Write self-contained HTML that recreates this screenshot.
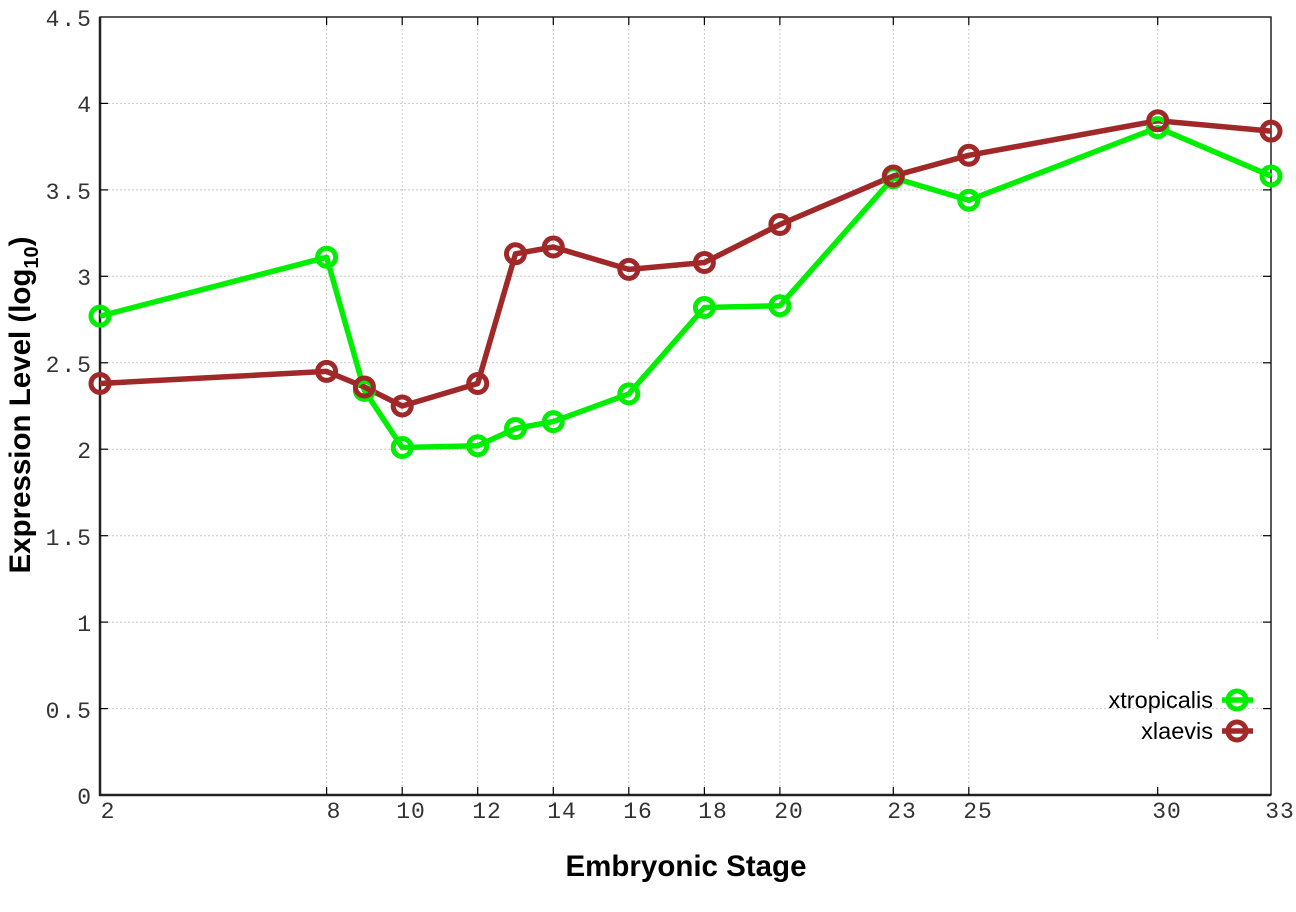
<!DOCTYPE html>
<html><head><meta charset="utf-8"><style>body{margin:0;background:#fff}</style></head><body>
<svg width="1296" height="907" xmlns="http://www.w3.org/2000/svg">
<rect width="1296" height="907" fill="#fff"/>
<g stroke="#c8c8c8" stroke-width="1" stroke-dasharray="2,2">
<line x1="100" x2="1271" y1="103.4" y2="103.4"/><line x1="100" x2="1271" y1="189.9" y2="189.9"/><line x1="100" x2="1271" y1="276.3" y2="276.3"/><line x1="100" x2="1271" y1="362.8" y2="362.8"/><line x1="100" x2="1271" y1="449.2" y2="449.2"/><line x1="100" x2="1271" y1="535.7" y2="535.7"/><line x1="100" x2="1271" y1="622.1" y2="622.1"/><line x1="100" x2="1271" y1="708.6" y2="708.6"/>
<line x1="326.6" x2="326.6" y1="17" y2="795"/><line x1="402.2" x2="402.2" y1="17" y2="795"/><line x1="477.7" x2="477.7" y1="17" y2="795"/><line x1="553.3" x2="553.3" y1="17" y2="795"/><line x1="628.8" x2="628.8" y1="17" y2="795"/><line x1="704.4" x2="704.4" y1="17" y2="795"/><line x1="779.9" x2="779.9" y1="17" y2="795"/><line x1="893.3" x2="893.3" y1="17" y2="795"/><line x1="968.8" x2="968.8" y1="17" y2="795"/><line x1="1157.7" x2="1157.7" y1="17" y2="640"/>
</g>
<rect x="100" y="17" width="1171" height="778" fill="none" stroke="#000" stroke-width="1.3"/>
<line x1="100" y1="17" x2="100" y2="796" stroke="#222" stroke-width="2.5"/>
<line x1="99" y1="795" x2="1271" y2="795" stroke="#222" stroke-width="2.5"/>
<g stroke="#000" stroke-width="1.2">
<line x1="100" x2="108" y1="103.4" y2="103.4"/><line x1="100" x2="108" y1="189.9" y2="189.9"/><line x1="100" x2="108" y1="276.3" y2="276.3"/><line x1="100" x2="108" y1="362.8" y2="362.8"/><line x1="100" x2="108" y1="449.2" y2="449.2"/><line x1="100" x2="108" y1="535.7" y2="535.7"/><line x1="100" x2="108" y1="622.1" y2="622.1"/><line x1="100" x2="108" y1="708.6" y2="708.6"/>
<line x1="1263" x2="1271" y1="103.4" y2="103.4"/><line x1="1263" x2="1271" y1="189.9" y2="189.9"/><line x1="1263" x2="1271" y1="276.3" y2="276.3"/><line x1="1263" x2="1271" y1="362.8" y2="362.8"/><line x1="1263" x2="1271" y1="449.2" y2="449.2"/><line x1="1263" x2="1271" y1="535.7" y2="535.7"/><line x1="1263" x2="1271" y1="622.1" y2="622.1"/><line x1="1263" x2="1271" y1="708.6" y2="708.6"/>
<line x1="326.6" x2="326.6" y1="787" y2="795"/><line x1="402.2" x2="402.2" y1="787" y2="795"/><line x1="477.7" x2="477.7" y1="787" y2="795"/><line x1="553.3" x2="553.3" y1="787" y2="795"/><line x1="628.8" x2="628.8" y1="787" y2="795"/><line x1="704.4" x2="704.4" y1="787" y2="795"/><line x1="779.9" x2="779.9" y1="787" y2="795"/><line x1="893.3" x2="893.3" y1="787" y2="795"/><line x1="968.8" x2="968.8" y1="787" y2="795"/><line x1="1157.7" x2="1157.7" y1="787" y2="795"/>
<line x1="326.6" x2="326.6" y1="17" y2="25"/><line x1="402.2" x2="402.2" y1="17" y2="25"/><line x1="477.7" x2="477.7" y1="17" y2="25"/><line x1="553.3" x2="553.3" y1="17" y2="25"/><line x1="628.8" x2="628.8" y1="17" y2="25"/><line x1="704.4" x2="704.4" y1="17" y2="25"/><line x1="779.9" x2="779.9" y1="17" y2="25"/><line x1="893.3" x2="893.3" y1="17" y2="25"/><line x1="968.8" x2="968.8" y1="17" y2="25"/><line x1="1157.7" x2="1157.7" y1="17" y2="25"/>
</g>
<g font-family="Liberation Mono, monospace" font-size="23" fill="#333" text-anchor="end" letter-spacing="2">
<text x="93" y="26">4.5</text><text x="93" y="112">4</text><text x="93" y="199">3.5</text><text x="93" y="285">3</text><text x="93" y="372">2.5</text><text x="93" y="458">2</text><text x="93" y="545">1.5</text><text x="93" y="631">1</text><text x="93" y="718">0.5</text><text x="93" y="804">0</text>
</g>
<g font-family="Liberation Mono, monospace" font-size="23" fill="#333" text-anchor="middle" letter-spacing="1">
<text x="108" y="818">2</text><text x="334" y="818">8</text><text x="411" y="818">10</text><text x="487" y="818">12</text><text x="562" y="818">14</text><text x="638" y="818">16</text><text x="713" y="818">18</text><text x="789" y="818">20</text><text x="902" y="818">23</text><text x="978" y="818">25</text><text x="1167" y="818">30</text><text x="1280" y="818">33</text>
</g>
<text x="686" y="876" font-family="Liberation Sans, sans-serif" font-weight="bold" font-size="29.5" text-anchor="middle">Embryonic Stage</text>
<text transform="translate(30,405) rotate(-90)" font-family="Liberation Sans, sans-serif" font-weight="bold" font-size="29.5" text-anchor="middle">Expression Level (log<tspan font-size="20" dy="8">10</tspan><tspan dy="-8">)</tspan></text>
<g fill="none" stroke-width="5.5" stroke-linejoin="round">
<polyline stroke="#00ee00" points="100,316.1 326.6,257.3 364.4,390.4 402.2,447.5 477.7,445.8 515.5,428.5 553.3,421.6 628.8,393.9 704.4,307.5 779.9,305.7 893.3,177.8 968.8,200.2 1157.7,127.6 1271,176"/>
<polyline stroke="#a02828" points="100,383.5 326.6,371.4 364.4,387 402.2,406 477.7,383.5 515.5,253.8 553.3,247 628.8,269.4 704.4,262.5 779.9,224.5 893.3,176 968.8,155.3 1157.7,120.7 1271,131.1"/>
</g>
<g fill="none" stroke="#00ee00" stroke-width="5">
<circle cx="100" cy="316.1" r="9"/><circle cx="326.6" cy="257.3" r="9"/><circle cx="364.4" cy="390.4" r="9"/><circle cx="402.2" cy="447.5" r="9"/><circle cx="477.7" cy="445.8" r="9"/><circle cx="515.5" cy="428.5" r="9"/><circle cx="553.3" cy="421.6" r="9"/><circle cx="628.8" cy="393.9" r="9"/><circle cx="704.4" cy="307.5" r="9"/><circle cx="779.9" cy="305.7" r="9"/><circle cx="893.3" cy="177.8" r="9"/><circle cx="968.8" cy="200.2" r="9"/><circle cx="1157.7" cy="127.6" r="9"/><circle cx="1271" cy="176" r="9"/>
<circle cx="1237" cy="700" r="9"/>
</g>
<g fill="none" stroke="#a02828" stroke-width="5">
<circle cx="100" cy="383.5" r="9"/><circle cx="326.6" cy="371.4" r="9"/><circle cx="364.4" cy="387" r="9"/><circle cx="402.2" cy="406" r="9"/><circle cx="477.7" cy="383.5" r="9"/><circle cx="515.5" cy="253.8" r="9"/><circle cx="553.3" cy="247" r="9"/><circle cx="628.8" cy="269.4" r="9"/><circle cx="704.4" cy="262.5" r="9"/><circle cx="779.9" cy="224.5" r="9"/><circle cx="893.3" cy="176" r="9"/><circle cx="968.8" cy="155.3" r="9"/><circle cx="1157.7" cy="120.7" r="9"/><circle cx="1271" cy="131.1" r="9"/>
<circle cx="1237" cy="731" r="9"/>
</g>
<line x1="1222" x2="1253" y1="700" y2="700" stroke="#00ee00" stroke-width="5.5"/>
<line x1="1222" x2="1253" y1="731" y2="731" stroke="#a02828" stroke-width="5.5"/>
<g font-family="Liberation Sans, sans-serif" font-size="23.5" text-anchor="end" fill="#000">
<text x="1213" y="708">xtropicalis</text><text x="1213" y="739">xlaevis</text>
</g>
</svg>
</body></html>
